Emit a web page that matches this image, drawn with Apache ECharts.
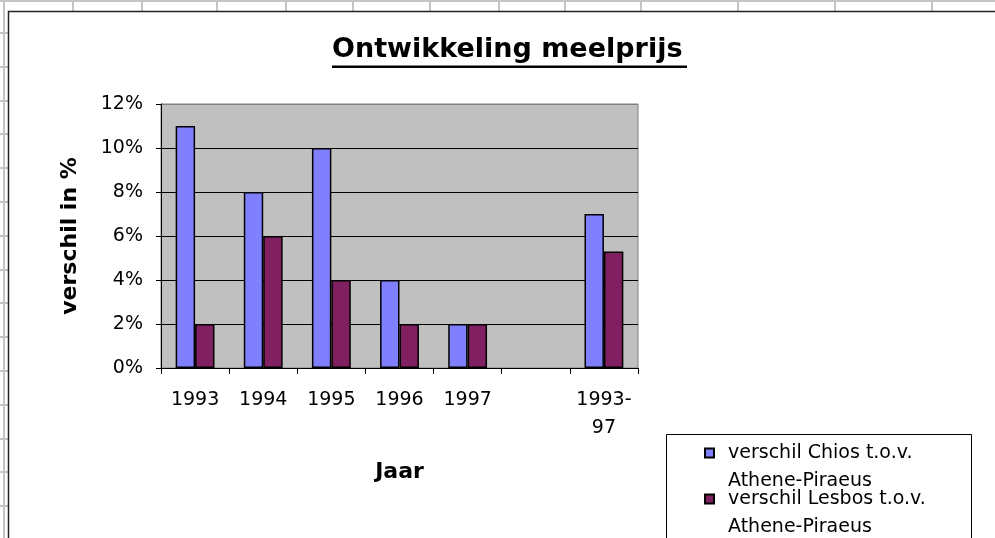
<!DOCTYPE html>
<html>
<head>
<meta charset="utf-8">
<script src="https://cdn.jsdelivr.net/npm/echarts@6/dist/echarts.min.js"></script>
<style>
html,body{margin:0;padding:0;background:#fff;}
#c{width:995px;height:538px;}
</style>
</head>
<body>
<div id="c"></div>
<script>
// ---- data ----
const categories = ['1993', '1994', '1995', '1996', '1997', '', '1993-97'];
const chiosName = 'verschil Chios t.o.v. Athene-Piraeus';
const lesbosName = 'verschil Lesbos t.o.v. Athene-Piraeus';
const chiosValues = [11, 8, 10, 4, 2, '-', 7];
const lesbosValues = [2, 6, 4, 2, 2, '-', 5.3];
const yTicks = [0, 2, 4, 6, 8, 10, 12];

// ---- spreadsheet decorations (background only) ----
const gray = '#c4c4c4';
const deco = [];
deco.push({type:'line', silent:true, z:-10, shape:{x1:0,y1:1,x2:995,y2:1}, style:{stroke:gray,lineWidth:2}});
deco.push({type:'line', silent:true, z:-10, shape:{x1:4,y1:0,x2:4,y2:538}, style:{stroke:gray,lineWidth:2}});
[73,142,217,286,353,430,499,565,641,738,835,932].forEach(function(x){
  deco.push({type:'line', silent:true, z:-10, shape:{x1:x,y1:0,x2:x,y2:11}, style:{stroke:gray,lineWidth:2}});
});
for (let y = 33; y < 538; y += 33.8) {
  deco.push({type:'line', silent:true, z:-10, shape:{x1:0,y1:Math.round(y),x2:8,y2:Math.round(y)}, style:{stroke:gray,lineWidth:2}});
}
// chart area border
deco.push({type:'polyline', silent:true, z:-5, shape:{points:[[8.5,538],[8.5,11.5],[995,11.5]]}, style:{stroke:'#222',lineWidth:1.5,fill:null}});
// title underline
deco.push({type:'rect', silent:true, shape:{x:332,y:65.5,width:355,height:2.5}, style:{fill:'#000'}});
// legend box
deco.push({type:'rect', silent:true, z:-1, shape:{x:666.5,y:434.5,width:305,height:120}, style:{fill:'#fff',stroke:'#000',lineWidth:1}});

const chart = echarts.init(document.getElementById('c'), null, {renderer:'canvas'});
chart.setOption({
  backgroundColor: '#ffffff',
  animation: false,
  title: {
    text: 'Ontwikkeling meelprijs',
    left: 327, top: 31,
    textStyle: {fontFamily:'DejaVu Sans', fontWeight:'bold', fontSize:27, color:'#000'}
  },
  legend: {
    orient: 'vertical',
    left: 699, top: 406, height: 300,
    itemWidth: 9, itemHeight: 9, itemGap: -38,
    icon: 'rect',
    data: [chiosName, lesbosName],
    formatter: function(n){ return '\n' + n.replace(' Athene', '\nAthene'); },
    textStyle: {fontFamily:'DejaVu Sans', fontSize:19, color:'#000', lineHeight:28, padding:[0,0,0,9]}
  },
  grid: {
    left: 161, top: 104, width: 477, height: 264,
    show: true, backgroundColor: '#c0c0c0', borderColor: '#808080', borderWidth: 1
  },
  xAxis: {
    type: 'category',
    data: categories,
    name: 'Jaar',
    nameLocation: 'middle',
    nameGap: 93,
    nameTextStyle: {fontFamily:'DejaVu Sans', fontWeight:'bold', fontSize:22, color:'#000'},
    axisLine: {lineStyle:{color:'#000', width:1}},
    axisTick: {show:true, alignWithLabel:false, length:6, lineStyle:{color:'#000'}},
    axisLabel: {
      interval: 0, margin: 18, lineHeight: 28,
      fontFamily:'DejaVu Sans', fontSize:19, color:'#000',
      formatter: function(v){ return v.replace('-', '-\n'); }
    }
  },
  yAxis: {
    type: 'value',
    min: yTicks[0], max: yTicks[yTicks.length-1], interval: 2,
    name: 'verschil in %',
    nameLocation: 'middle',
    nameGap: 80,
    nameTextStyle: {fontFamily:'DejaVu Sans', fontWeight:'bold', fontSize:22, color:'#000'},
    axisLine: {show:true, lineStyle:{color:'#000', width:1}},
    axisTick: {show:true, length:5, lineStyle:{color:'#000'}},
    axisLabel: {margin: 18, fontFamily:'DejaVu Sans', fontSize:19, color:'#000', formatter:'{value}%'},
    splitLine: {show:true, lineStyle:{color:['#000','#000','#000','#000','#000','#000','#808080'], width:1}}
  },
  series: [
    {
      name: chiosName, type: 'bar', data: chiosValues,
      barGap: '0%', barCategoryGap: '43%',
      itemStyle: {color:'#8080ff', borderColor:'#000', borderWidth:1.5}
    },
    {
      name: lesbosName, type: 'bar', data: lesbosValues,
      barGap: '0%', barCategoryGap: '43%',
      itemStyle: {color:'#802060', borderColor:'#000', borderWidth:1.5}
    }
  ],
  graphic: deco
});
</script>
</body>
</html>
